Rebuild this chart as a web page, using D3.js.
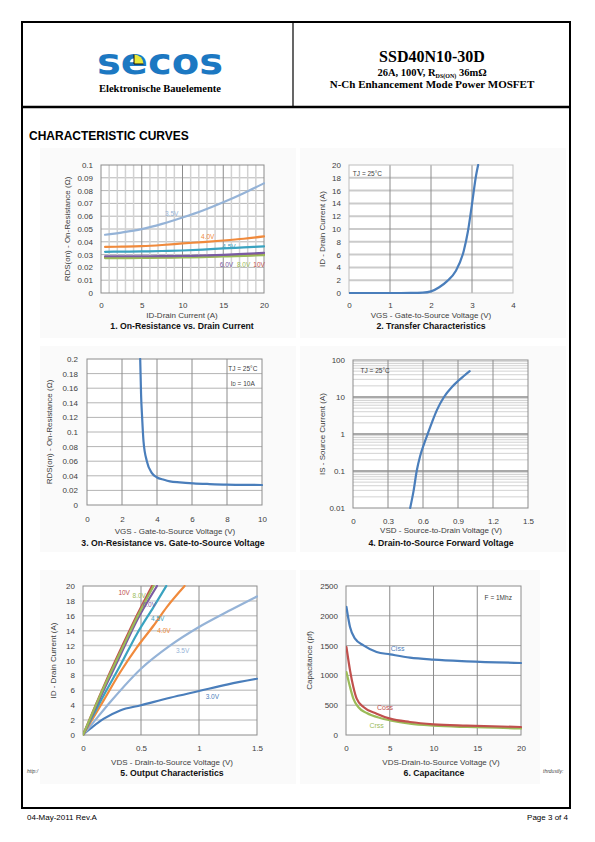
<!DOCTYPE html>
<html><head><meta charset="utf-8">
<script src="https://cdn.jsdelivr.net/npm/d3@7"></script>
<style>body{margin:0;background:#fff}svg{display:block}</style>
</head><body>
<svg id="page" width="595" height="842"></svg>
<script>
// ---------------- DATA ----------------
// Chart 1: On-Resistance vs Drain Current
const c1Id = [0.5, 2.5, 5, 7.5, 10, 12.5, 15, 17.5, 20];
const c1V35 = [0.0455, 0.0472, 0.0499, 0.054, 0.059, 0.0645, 0.0709, 0.078, 0.0857];
const c1V40 = [0.036, 0.0362, 0.0366, 0.0375, 0.0387, 0.0398, 0.041, 0.0424, 0.0442];
const c1V45 = [0.0322, 0.0323, 0.0325, 0.0328, 0.0332, 0.0339, 0.0348, 0.0356, 0.0364];
const c1V60 = [0.0287, 0.0287, 0.0287, 0.0288, 0.0289, 0.0293, 0.0298, 0.0305, 0.0314];
const c1V80 = [0.0273, 0.0273, 0.0274, 0.0276, 0.0278, 0.0281, 0.0285, 0.029, 0.0296];
const c1V10 = [0.0278, 0.0278, 0.0279, 0.028, 0.0282, 0.0285, 0.0289, 0.0294, 0.03];
const c1Names = ["10V", "8.0V", "6.0V", "4.5V", "4.0V", "3.5V"];
const c1LabelX = [19.4, 17.5, 15.4, 15.7, 13.1, 8.67];
const c1LabelY = [0.0219, 0.0219, 0.0219, 0.0362, 0.0437, 0.0617];
const c1XTicks = [0, 5, 10, 15, 20];
const c1YTicks = [0, 0.01, 0.02, 0.03, 0.04, 0.05, 0.06, 0.07, 0.08, 0.09, 0.1];
const c1YLabels = ["0", "0.01", "0.02", "0.03", "0.04", "0.05", "0.06", "0.07", "0.08", "0.09", "0.1"];

// Chart 2: Transfer characteristics
const c2Vgs = [0, 0.5, 1, 1.5, 1.8, 2, 2.2, 2.4, 2.6, 2.8, 2.9, 3, 3.1, 3.15];
const c2Id = [0, 0, 0, 0.01, 0.05, 0.25, 0.9, 1.9, 3.4, 6.6, 9.6, 13.9, 18.4, 20];
const c2XTicks = [0, 1, 2, 3, 4];
const c2YTicks = [0, 2, 4, 6, 8, 10, 12, 14, 16, 18, 20];

// Chart 3: On-Resistance vs Gate-to-Source Voltage
const c3Vgs = [3.04, 3.09, 3.15, 3.23, 3.42, 3.7, 3.98, 4.4, 4.74, 5.3, 6.07, 7, 7.97, 9, 10];
const c3R = [0.2, 0.151, 0.12, 0.087, 0.06, 0.044, 0.038, 0.0345, 0.0324, 0.031, 0.0297, 0.0287, 0.0279, 0.0276, 0.0274];
const c3XTicks = [0, 2, 4, 6, 8, 10];
const c3YTicks = [0, 0.02, 0.04, 0.06, 0.08, 0.1, 0.12, 0.14, 0.16, 0.18, 0.2];
const c3YLabels = ["0", "0.02", "0.04", "0.06", "0.08", "0.1", "0.12", "0.14", "0.16", "0.18", "0.2"];

// Chart 4: Drain-to-Source forward voltage (log)
const c4Vsd = [0.49, 0.52, 0.546, 0.575, 0.61, 0.64, 0.68, 0.72, 0.78, 0.85, 0.9, 0.95, 1.0];
const c4Is = [0.01, 0.03, 0.1, 0.25, 0.55, 1, 2.2, 4.5, 10, 19, 27, 37, 50];
const c4XTicks = [0, 0.3, 0.6, 0.9, 1.2, 1.5];
const c4XLabels = ["0", "0.3", "0.6", "0.9", "1.2", "1.5"];
const c4YTicks = [0.01, 0.1, 1, 10, 100];
const c4YLabels = ["0.01", "0.1", "1", "10", "100"];

// Chart 5: Output characteristics
const c5V30x = [0, 0.03, 0.08, 0.18, 0.32, 0.5, 0.75, 1.0, 1.25, 1.5];
const c5V30y = [0, 0.45, 1.07, 2.19, 3.3, 4.0, 5.0, 5.9, 6.8, 7.55];
const c5V35x = [0, 0.1, 0.25, 0.5, 0.75, 1.0, 1.25, 1.5];
const c5V35y = [0, 1.9, 4.7, 8.9, 12.0, 14.5, 16.6, 18.6];
const c5V40x = [0, 0.178, 0.322, 0.466, 0.609, 0.724, 0.876];
const c5V40y = [0, 4.65, 8.46, 11.8, 14.7, 17.2, 20];
const c5V45x = [0, 0.178, 0.322, 0.466, 0.609, 0.718];
const c5V45y = [0, 5.3, 9.35, 13.6, 17.2, 20];
const c5V60x = [0, 0.178, 0.322, 0.466, 0.638];
const c5V60y = [0, 6.0, 10.7, 15.4, 20];
const c5V80x = [0, 0.178, 0.322, 0.466, 0.609];
const c5V80y = [0, 6.35, 11.1, 15.8, 20];
const c5V10x = [0, 0.178, 0.322, 0.466, 0.595];
const c5V10y = [0, 6.5, 11.4, 16.1, 20];
const c5Names = ["3.0V", "3.5V", "4.0V", "4.5V", "6.0V", "8.0V", "10V"];
const c5LabelX = [1.115, 0.859, 0.698, 0.644, 0.572, 0.485, 0.355];
const c5LabelY = [5.1, 11.37, 14.0, 15.57, 17.45, 18.7, 19.15];
const c5XTicks = [0, 0.5, 1, 1.5];
const c5XLabels = ["0", "0.5", "1", "1.5"];
const c5YTicks = [0, 2, 4, 6, 8, 10, 12, 14, 16, 18, 20];

// Chart 6: Capacitance
const c6CissX = [0.05, 0.46, 1.03, 2.0, 3.5, 5.04, 7.3, 10, 13.8, 20];
const c6Ciss = [2148, 1812, 1616, 1504, 1393, 1353, 1298, 1264, 1236, 1208];
const c6CossX = [0.05, 0.46, 0.84, 1.22, 2.0, 3.5, 5.04, 7.3, 10, 13.8, 20];
const c6Coss = [1476, 1085, 805, 610, 470, 358, 274, 218, 179, 157, 134];
const c6CrssX = [0.05, 0.46, 0.84, 1.4, 2.37, 3.9, 5.04, 7.3, 10, 13.8, 20];
const c6Crss = [1057, 805, 610, 470, 369, 285, 246, 190, 157, 134, 112];
const c6Names = ["Ciss", "Coss", "Crss"];
const c6LabelX = [5.9, 4.46, 3.5];
const c6LabelY = [1443, 458, 163];
const c6XTicks = [0, 5, 10, 15, 20];
const c6YTicks = [0, 500, 1000, 1500, 2000, 2500];

// ---------------- STYLE ----------------
const FONT = "'Liberation Sans', Arial, sans-serif";
const SERIF = "'Liberation Serif', 'Times New Roman', serif";
const TXT = "#404040";
const COL = {
  blue: "#4a7ebb", light: "#95b3d7", orange: "#f08a3c", teal: "#3aa3c0",
  purple: "#7a5ba3", olive: "#9bbb59", red: "#c0504d"
};
const DARK = "#8c8c8c", MID = "#b4b4b4", LIGHT = "#d2d2d2";

const svg = d3.select("#page");

// ---------------- PAGE FRAME ----------------
svg.append("rect").attr("x", 22).attr("y", 22).attr("width", 548).attr("height", 786)
  .attr("fill", "none").attr("stroke", "#000").attr("stroke-width", 2);
svg.append("line").attr("x1", 22).attr("x2", 570).attr("y1", 107).attr("y2", 107)
  .attr("stroke", "#000").attr("stroke-width", 2.5);
svg.append("line").attr("x1", 293).attr("x2", 293).attr("y1", 22).attr("y2", 107)
  .attr("stroke", "#000").attr("stroke-width", 1.2);

// logo
svg.append("text").attr("x", 97).attr("y", 74).attr("textLength", 126).attr("lengthAdjust", "spacingAndGlyphs")
  .attr("font-family", "'DejaVu Sans', sans-serif").attr("font-weight", "bold").attr("font-size", 36)
  .attr("fill", "#1c78c2").text("secos");
svg.append("path").attr("d", "M134,64 L134,54.5 A9.5,9.5 0 0 1 143.5,64 Z").attr("fill", "#e8e83a");
svg.append("path").attr("d", "M134,54.5 L134,64 L143.5,64").attr("fill", "none").attr("stroke", "#111").attr("stroke-width", 1);
svg.append("text").attr("x", 160).attr("y", 92).attr("text-anchor", "middle")
  .attr("font-family", SERIF).attr("font-weight", "bold").attr("font-size", 10.5).text("Elektronische Bauelemente");

// header right
svg.append("text").attr("x", 432).attr("y", 62).attr("text-anchor", "middle")
  .attr("font-family", SERIF).attr("font-weight", "bold").attr("font-size", 16).text("SSD40N10-30D");
const t2 = svg.append("text").attr("x", 432).attr("y", 76).attr("text-anchor", "middle")
  .attr("font-family", SERIF).attr("font-weight", "bold").attr("font-size", 10.5);
t2.append("tspan").text("26A, 100V, R");
t2.append("tspan").attr("font-size", 6).attr("dy", 2).text("DS(ON)");
t2.append("tspan").attr("dy", -2).text(" 36mΩ");
svg.append("text").attr("x", 432).attr("y", 88).attr("text-anchor", "middle")
  .attr("font-family", SERIF).attr("font-weight", "bold").attr("font-size", 11).text("N-Ch Enhancement Mode Power MOSFET");

svg.append("text").attr("x", 29).attr("y", 140).attr("font-family", FONT).attr("font-weight", "bold")
  .attr("font-size", 12).text("CHARACTERISTIC CURVES");

// footer
svg.append("text").attr("x", 27).attr("y", 820).attr("font-family", FONT).attr("font-size", 8).text("04-May-2011 Rev.A");
svg.append("text").attr("x", 568).attr("y", 820).attr("text-anchor", "end").attr("font-family", FONT).attr("font-size", 8).text("Page 3 of 4");

// faint panels
[[40, 148, 256, 190], [300, 148, 266, 190], [40, 346, 256, 206], [300, 346, 266, 206], [40, 570, 256, 214], [300, 570, 240, 214]]
  .forEach(p => svg.append("rect").attr("x", p[0]).attr("y", p[1]).attr("width", p[2]).attr("height", p[3]).attr("fill", "#fafafa"));

svg.append("text").attr("x", 27).attr("y", 773).attr("font-family", FONT).attr("font-style", "italic").attr("font-size", 5).attr("fill", "#444").text("http:/");
svg.append("text").attr("x", 543).attr("y", 773).attr("font-family", FONT).attr("font-style", "italic").attr("font-size", 5).attr("fill", "#444").text("thrdustly:");

// ---------------- CHART HELPER ----------------
let clipId = 0;
function makeChart(o) {
  const g = svg.append("g");
  const x = d3.scaleLinear().domain(o.xDomain).range([o.left, o.right]);
  const y = (o.log ? d3.scaleLog() : d3.scaleLinear()).domain(o.yDomain).range([o.bottom, o.top]);
  g.append("rect").attr("x", o.left).attr("y", o.top).attr("width", o.right - o.left).attr("height", o.bottom - o.top).attr("fill", "#fff");
  (o.hGrid || []).forEach(gr => g.append("g").selectAll("line").data(gr.v).join("line")
    .attr("x1", o.left).attr("x2", o.right).attr("y1", d => y(d)).attr("y2", d => y(d))
    .attr("stroke", gr.c).attr("stroke-width", gr.w || 1));
  (o.vGrid || []).forEach(gr => g.append("g").selectAll("line").data(gr.v).join("line")
    .attr("y1", o.top).attr("y2", o.bottom).attr("x1", d => x(d)).attr("x2", d => x(d))
    .attr("stroke", gr.c).attr("stroke-width", gr.w || 1));
  g.append("rect").attr("x", o.left).attr("y", o.top).attr("width", o.right - o.left).attr("height", o.bottom - o.top)
    .attr("fill", "none").attr("stroke", o.border || DARK).attr("stroke-width", 1);

  const ax = d3.axisBottom(x).tickValues(o.xTicks).tickSize(0).tickPadding(o.xPad)
    .tickFormat((d, i) => o.xLabels ? o.xLabels[i] : String(d));
  g.append("g").attr("transform", `translate(0,${o.bottom})`).call(ax)
    .call(s => s.select(".domain").remove())
    .selectAll("text").attr("font-family", FONT).attr("font-size", 8).attr("fill", TXT);
  const ay = d3.axisLeft(y).tickValues(o.yTicks).tickSize(0).tickPadding(o.left - o.yLabelRight)
    .tickFormat((d, i) => o.yLabels ? o.yLabels[i] : String(d));
  g.append("g").attr("transform", `translate(${o.left},0)`).call(ay)
    .call(s => s.select(".domain").remove())
    .selectAll("text").attr("font-family", FONT).attr("font-size", 8).attr("fill", TXT);

  g.append("text").attr("transform", `translate(${o.yTitleX},${(o.top + o.bottom) / 2}) rotate(-90)`)
    .attr("text-anchor", "middle").attr("dy", "0.35em").attr("font-family", FONT).attr("font-size", 8).attr("fill", TXT).text(o.yTitle);
  g.append("text").attr("x", o.xTitleX).attr("y", o.xTitleY).attr("text-anchor", "middle")
    .attr("font-family", FONT).attr("font-size", 8).attr("fill", TXT).text(o.xTitle);
  g.append("text").attr("x", o.titleX).attr("y", o.titleY).attr("text-anchor", "middle")
    .attr("font-family", FONT).attr("font-weight", "bold").attr("font-size", 8.7).attr("fill", "#111").text(o.title);

  const id = "clip" + (clipId++);
  g.append("clipPath").attr("id", id).append("rect").attr("x", o.left).attr("y", o.top - 1)
    .attr("width", o.right - o.left + 1).attr("height", o.bottom - o.top + 2);
  const lines = g.append("g").attr("clip-path", `url(#${id})`);
  const lineGen = d3.line().x(d => x(d[0])).y(d => y(d[1])).curve(d3.curveMonotoneX);
  function series(xs, ys, color, w) {
    lines.append("path").datum(xs.map((v, i) => [v, ys[i]])).attr("d", lineGen)
      .attr("fill", "none").attr("stroke", color).attr("stroke-width", w || 2.2).attr("stroke-linecap", "round");
  }
  function label(tx, ty, text, color, size, anchor) {
    return g.append("text").attr("x", x(tx)).attr("y", y(ty)).attr("dy", "0.35em")
      .attr("text-anchor", anchor || "middle").attr("font-family", FONT).attr("font-size", size || 7)
      .attr("fill", color || TXT).text(text);
  }
  return { g, x, y, series, label };
}

// ---------------- CHART 1 ----------------
const minor1 = d3.range(1, 20).filter(v => v % 5 !== 0);
const ch1 = makeChart({
  left: 101, right: 264, top: 165, bottom: 293, xDomain: [0, 20], yDomain: [0, 0.1],
  xTicks: c1XTicks, yTicks: c1YTicks, yLabels: c1YLabels, xPad: 9, yLabelRight: 93,
  hGrid: [{ v: c1YTicks.slice(1, -1), c: MID }],
  vGrid: [{ v: minor1, c: LIGHT, w: 1.5 }, { v: [5, 10, 15], c: DARK }],
  yTitle: "RDS(on) - On-Resistance (Ω)", yTitleX: 67,
  xTitle: "ID-Drain Current (A)", xTitleX: 182, xTitleY: 318,
  title: "1. On-Resistance vs. Drain Current", titleX: 182, titleY: 329
});
ch1.series(c1Id, c1V10, COL.red);
ch1.series(c1Id, c1V80, COL.olive);
ch1.series(c1Id, c1V60, COL.purple);
ch1.series(c1Id, c1V45, COL.teal);
ch1.series(c1Id, c1V40, COL.orange);
ch1.series(c1Id, c1V35, COL.light);
const c1Colors = [COL.red, COL.olive, COL.purple, COL.teal, COL.orange, COL.light];
c1Names.forEach((n, i) => ch1.label(c1LabelX[i], c1LabelY[i], n, c1Colors[i], 6.5));

// ---------------- CHART 2 ----------------
const ch2 = makeChart({
  left: 349, right: 513, top: 165, bottom: 293, xDomain: [0, 4], yDomain: [0, 20],
  xTicks: c2XTicks, yTicks: c2YTicks, xPad: 9, yLabelRight: 341,
  hGrid: [{ v: c2YTicks.slice(1, -1), c: "#cbcbcb", w: 2 }],
  vGrid: [{ v: [1, 2, 3], c: DARK }], border: "#bdbdbd",
  yTitle: "ID - Drain Current (A)", yTitleX: 322,
  xTitle: "VGS - Gate-to-Source Voltage (V)", xTitleX: 431, xTitleY: 318,
  title: "2. Transfer Characteristics", titleX: 431, titleY: 329
});
ch2.series(c2Vgs, c2Id, COL.blue);
ch2.label(0.45, 18.6, "TJ = 25°C", TXT, 6.5);

// ---------------- CHART 3 ----------------
const ch3 = makeChart({
  left: 87, right: 262, top: 359, bottom: 505, xDomain: [0, 10], yDomain: [0, 0.2],
  xTicks: c3XTicks, yTicks: c3YTicks, yLabels: c3YLabels, xPad: 11, yLabelRight: 78,
  hGrid: [{ v: c3YTicks.slice(1, -1), c: MID }],
  vGrid: [{ v: [2, 4, 6, 8], c: DARK }],
  yTitle: "RDS(on) - On-Resistance (Ω)", yTitleX: 49,
  xTitle: "VGS - Gate-to-Source Voltage (V)", xTitleX: 175, xTitleY: 533.5,
  title: "3. On-Resistance vs. Gate-to-Source Voltage", titleX: 173, titleY: 546
});
ch3.series(c3Vgs, c3R, COL.blue);
ch3.label(8.9, 0.1873, "TJ = 25°C", TXT, 6.5);
const idl = ch3.label(8.9, 0.1667, "", TXT, 6.5);
idl.append("tspan").text("I");
idl.append("tspan").attr("font-size", 4.5).text("D");
idl.append("tspan").text(" = 10A");

// ---------------- CHART 4 ----------------
const minor4 = [];
[0.01, 0.1, 1, 10].forEach(d => d3.range(2, 10).forEach(k => minor4.push(d * k)));
const ch4 = makeChart({
  left: 353, right: 528, top: 360, bottom: 508, xDomain: [0, 1.5], yDomain: [0.01, 100], log: true,
  xTicks: c4XTicks, xLabels: c4XLabels, yTicks: c4YTicks, yLabels: c4YLabels, xPad: 10, yLabelRight: 345,
  hGrid: [{ v: minor4, c: LIGHT }, { v: [0.1, 1, 10], c: DARK, w: 1.5 }],
  vGrid: [{ v: [0.3, 0.6, 0.9, 1.2], c: DARK }],
  yTitle: "IS - Source Current (A)", yTitleX: 322,
  xTitle: "VSD - Source-to-Drain Voltage (V)", xTitleX: 441, xTitleY: 533,
  title: "4. Drain-to-Source Forward Voltage", titleX: 441, titleY: 546
});
ch4.series(c4Vsd, c4Is, COL.blue);
ch4.label(0.19, 50, "TJ = 25°C", TXT, 6.5);

// ---------------- CHART 5 ----------------
const ch5 = makeChart({
  left: 83, right: 257, top: 586, bottom: 735, xDomain: [0, 1.5], yDomain: [0, 20],
  xTicks: c5XTicks, xLabels: c5XLabels, yTicks: c5YTicks, xPad: 10, yLabelRight: 75,
  hGrid: [{ v: c5YTicks.slice(1, -1), c: "#cbcbcb", w: 1.5 }],
  vGrid: [{ v: [0.5, 1.0], c: DARK }],
  yTitle: "ID - Drain Current (A)", yTitleX: 53,
  xTitle: "VDS - Drain-to-Source Voltage (V)", xTitleX: 172, xTitleY: 764.5,
  title: "5. Output Characteristics", titleX: 172, titleY: 776
});
ch5.series(c5V30x, c5V30y, COL.blue);
ch5.series(c5V35x, c5V35y, COL.light);
ch5.series(c5V40x, c5V40y, COL.orange);
ch5.series(c5V45x, c5V45y, COL.teal);
ch5.series(c5V60x, c5V60y, COL.purple);
ch5.series(c5V10x, c5V10y, COL.red);
ch5.series(c5V80x, c5V80y, COL.olive);
const c5Colors = [COL.blue, COL.light, COL.orange, COL.teal, COL.purple, COL.olive, COL.red];
c5Names.forEach((n, i) => ch5.label(c5LabelX[i], c5LabelY[i], n, c5Colors[i], 6.5));

// ---------------- CHART 6 ----------------
const ch6 = makeChart({
  left: 346, right: 521, top: 586, bottom: 735, xDomain: [0, 20], yDomain: [0, 2500],
  xTicks: c6XTicks, yTicks: c6YTicks, xPad: 10, yLabelRight: 338,
  hGrid: [{ v: c6YTicks.slice(1, -1), c: "#a8a8a8" }],
  vGrid: [{ v: [5, 10, 15], c: DARK }],
  yTitle: "Capacitance (pf)", yTitleX: 309,
  xTitle: "VDS-Drain-to-Source Voltage (V)", xTitleX: 441, xTitleY: 764.5,
  title: "6. Capacitance", titleX: 434, titleY: 776
});
ch6.series(c6CrssX, c6Crss, COL.olive);
ch6.series(c6CossX, c6Coss, COL.red);
ch6.series(c6CissX, c6Ciss, COL.blue);
const c6Colors = [COL.blue, COL.red, COL.olive];
c6Names.forEach((n, i) => ch6.label(c6LabelX[i], c6LabelY[i], n, c6Colors[i], 7));
ch6.label(17.4, 2304, "F = 1Mhz", TXT, 6.5);
</script>
</body></html>
